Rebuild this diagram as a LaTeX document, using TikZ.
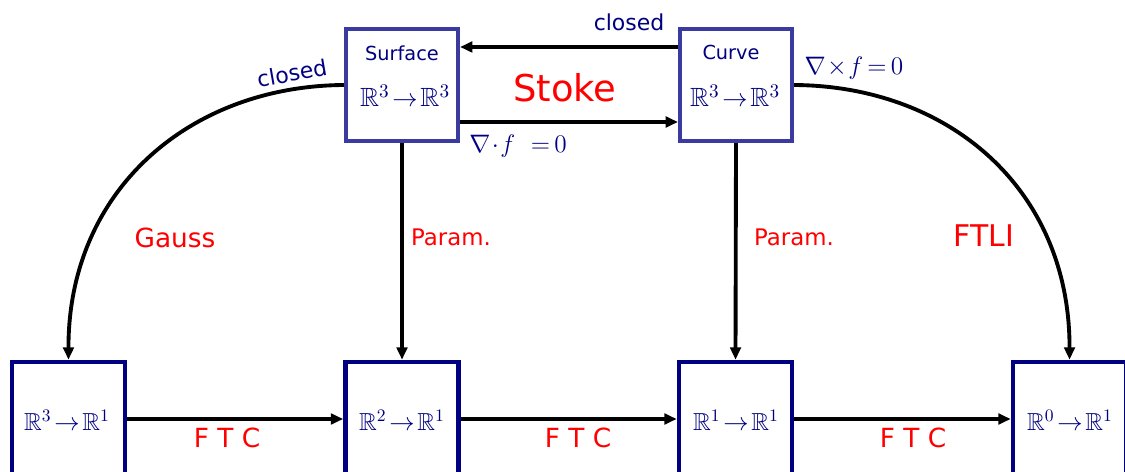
\documentclass[tikz,border=0pt]{standalone}
\usepackage{amssymb}
\usepackage{fontspec}
\setmainfont{DejaVu Sans}
\usetikzlibrary{arrows.meta,calc}
\definecolor{navy}{RGB}{0,0,128}
\definecolor{topblue}{RGB}{58,58,160}
\definecolor{lred}{RGB}{255,0,0}
\newcommand{\fs}[1]{\fontsize{#1}{#1}\selectfont}
\tikzset{
  topbox/.style={draw=topblue, line width=2.3pt, fill=white, minimum width=112*0.02cm, minimum height=112*0.02cm, inner sep=0pt},
  botbox/.style={draw=navy, line width=2.6pt, fill=white, minimum width=113*0.02cm, minimum height=114*0.02cm, inner sep=0pt},
  conn/.style={line width=2.2pt, black},
  arr/.style={conn, -{Triangle[length=7pt,width=6pt]}},
  bluetxt/.style={text=navy, inner sep=0pt},
  redtxt/.style={text=lred, inner sep=0pt},
  mathtxt/.style={text=navy, inner sep=0pt, font=\fs{15}},
}
\begin{document}
\begin{tikzpicture}[x=0.02cm, y=-0.02cm]
\clip (0,0) rectangle (1125,472);
\fill[white] (0,0) rectangle (1125,472);
% top boxes
\node[topbox] (s) at (402,85) {};
\node[topbox] (c) at (736,85) {};
% bottom boxes
\node[botbox] (b1) at (68.5,419) {};
\node[botbox] (b2) at (402,419) {};
\node[botbox] (b3) at (735.5,419) {};
\node[botbox] (b4) at (1069.5,419) {};
% box texts
\node[bluetxt, font=\fs{11}] (st) at (402,53) {Surface};
\node[mathtxt] (sm) at (405,96) {$\mathbb{R}^3\!\to\!\mathbb{R}^3$};
\node[bluetxt, font=\fs{11}] (ct) at (731,52) {Curve};
\node[mathtxt] (cm) at (735,96) {$\mathbb{R}^3\!\to\!\mathbb{R}^3$};
\node[mathtxt, font=\fs{14}] (m1) at (67,420) {$\mathbb{R}^3\!\to\!\mathbb{R}^1$};
\node[mathtxt, font=\fs{14}] (m2) at (402,420) {$\mathbb{R}^2\!\to\!\mathbb{R}^1$};
\node[mathtxt, font=\fs{14}] (m3) at (736,420) {$\mathbb{R}^1\!\to\!\mathbb{R}^1$};
\node[mathtxt, font=\fs{14}] (m4) at (1070,420) {$\mathbb{R}^0\!\to\!\mathbb{R}^1$};
% top arrows
\draw[arr] ($(c.west)+(0,-38)$) -- ($(s.east)+(0,-38)$);
\draw[arr] ($(s.east)+(0,37)$) -- ($(c.west)+(0,37)$);
% vertical arrows
\draw[arr] (s.south) -- (b2.north);
\draw[arr] (c.south) -- (b3.north);
% curves
\draw[arr] (s.west) .. controls (190,86) and (68,190) .. (b1.north);
\draw[arr] (c.east) .. controls (950,86) and (1070,190) .. (b4.north);
% bottom arrows
\draw[arr] (b1.east) -- (b2.west);
\draw[arr] (b2.east) -- (b3.west);
\draw[arr] (b3.east) -- (b4.west);
% labels
\node[bluetxt, font=\fs{12.5}, rotate=10] (l1) at (292,73) {closed};
\node[bluetxt, font=\fs{12.5}] (l2) at (629,22) {closed};
\node[redtxt, font=\fs{21}] (l3) at (565,88) {Stoke};
\node[bluetxt, font=\fs{14}] (l4) at (518,146) {$\nabla\!\cdot\! f\ \ {=}\,0$};
\node[bluetxt, font=\fs{14}] (l5) at (854,68) {$\nabla\!\times\! f\,{=}\,0$};
\node[redtxt, font=\fs{15}] (l6) at (175,238) {Gauss};
\node[redtxt, font=\fs{13}] (l7) at (451,237) {Param.};
\node[redtxt, font=\fs{13}] (l8) at (794,237) {Param.};
\node[redtxt, font=\fs{17}] (l9) at (984,236) {FTLI};
\node[redtxt, font=\fs{15}] (f1) at (227,438) {F T C};
\node[redtxt, font=\fs{15}] (f2) at (578,438) {F T C};
\node[redtxt, font=\fs{15}] (f3) at (913,438) {F T C};
\end{tikzpicture}
\end{document}
